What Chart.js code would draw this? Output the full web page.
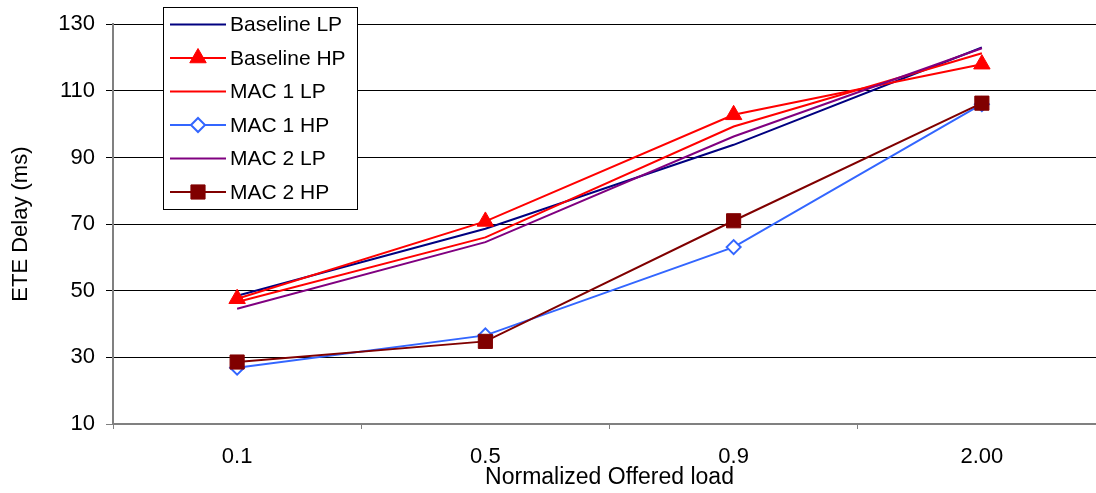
<!DOCTYPE html>
<html>
<head>
<meta charset="utf-8">
<script src="https://cdn.jsdelivr.net/npm/chart.js@4.4.0/dist/chart.umd.min.js"></script>
<style>
  html, body { margin: 0; padding: 0; background: #fff; overflow: hidden; }
  #wrap { width: 1117px; height: 493px; }
</style>
</head>
<body>
<div id="wrap"><canvas id="ete" width="1117" height="493"></canvas></div>
<script>
// offered load categories
const loads = ['0.1', '0.5', '0.9', '2.00'];

// ETE delay (ms) per scheme
const baselineLP = [48.5, 68.6, 93.8, 123.0];
const baselineHP = [47.6, 70.8, 102.8, 118.0];
const mac1LP = [46.6, 66.0, 99.3, 121.3];
const mac1HP = [26.9, 36.6, 63.1, 106.0];
const mac2LP = [44.6, 64.6, 96.3, 122.8];
const mac2HP = [28.6, 34.8, 71.0, 106.3];

const yTicks = [10, 30, 50, 70, 90, 110, 130];

const FONT = '"Liberation Sans", Arial, sans-serif';

// legend drawn as a boxed overlay inside the plot, like the original
const boxLegend = {
    id: 'boxLegend',
    afterDraw(chart) {
        const ctx = chart.ctx;
        const x0 = 163.5, y0 = 7.5, w = 194, h = 202;
        ctx.save();
        ctx.fillStyle = '#fff';
        ctx.fillRect(x0, y0, w, h);
        ctx.strokeStyle = '#000';
        ctx.lineWidth = 1;
        ctx.strokeRect(x0, y0, w, h);
        chart.data.datasets.forEach((ds, i) => {
            const y = 24.5 + i * 33.5;
            ctx.strokeStyle = ds.borderColor;
            ctx.lineWidth = ds.borderWidth;
            ctx.beginPath();
            ctx.moveTo(170, y);
            ctx.lineTo(226, y);
            ctx.stroke();
            if (ds.pointStyle) {
                ctx.fillStyle = ds.pointBackgroundColor;
                ctx.strokeStyle = ds.pointBorderColor;
                ctx.lineWidth = ds.pointBorderWidth;
                Chart.helpers.drawPoint(ctx, {
                    pointStyle: ds.pointStyle,
                    radius: ds.pointRadius,
                    borderWidth: ds.pointBorderWidth,
                    rotation: 0
                }, 198, y);
            }
            ctx.fillStyle = '#000';
            ctx.font = '21px ' + FONT;
            ctx.textBaseline = 'middle';
            ctx.fillText(ds.label, 230, y + 1);
        });
        ctx.restore();
    }
};

// later series sit on top, as in the original
const line = (label, data, color, order, extra) => Object.assign({
    label: label,
    data: data,
    order: order,
    borderColor: color,
    backgroundColor: color,
    borderWidth: 2,
    pointRadius: 0,
    pointHoverRadius: 0,
    pointStyle: false,
    tension: 0,
    fill: false
}, extra || {});

const ctx = document.getElementById('ete');
window.eteChart = new Chart(ctx, {
    type: 'line',
    data: {
        labels: loads,
        datasets: [
            line('Baseline LP', baselineLP, '#000080', 5),
            line('Baseline HP', baselineHP, '#FF0000', 4, {
                pointStyle: 'triangle', pointRadius: 9.5,
                pointBackgroundColor: '#FF0000', pointBorderColor: '#FF0000', pointBorderWidth: 1
            }),
            line('MAC 1 LP', mac1LP, '#FF0000', 3),
            line('MAC 1 HP', mac1HP, '#3366FF', 2, {
                pointStyle: 'rectRot', pointRadius: 7,
                pointBackgroundColor: '#FFFFFF', pointBorderColor: '#3366FF', pointBorderWidth: 2
            }),
            line('MAC 2 LP', mac2LP, '#800080', 1),
            line('MAC 2 HP', mac2HP, '#800000', 0, {
                pointStyle: 'rect', pointRadius: 10,
                pointBackgroundColor: '#800000', pointBorderColor: '#800000', pointBorderWidth: 1
            })
        ]
    },
    options: {
        responsive: false,
        animation: false,
        events: [],
        layout: { padding: { top: 24, right: 5, left: 0, bottom: 0 } },
        plugins: {
            legend: { display: false },
            tooltip: { enabled: false }
        },
        scales: {
            x: {
                type: 'category',
                offset: true,
                grid: {
                    offset: true,
                    drawOnChartArea: false,
                    color: '#808080',
                    tickLength: 5
                },
                border: { color: '#808080', width: 2 },
                ticks: { color: '#000', font: { family: FONT, size: 22 }, padding: 15, maxRotation: 0 },
                title: {
                    display: true,
                    text: 'Normalized Offered load',
                    color: '#000',
                    font: { family: FONT, size: 23 },
                    padding: { top: 0, bottom: 2 }
                },
                afterFit(scale) { scale.height = 69; }
            },
            y: {
                min: 10,
                max: 130,
                afterBuildTicks(scale) { scale.ticks = yTicks.map(v => ({ value: v })); },
                grid: {
                    color: c => (c.tick && c.tick.value === 10) ? '#808080' : '#000',
                    lineWidth: 1,
                    tickLength: 7
                },
                border: { color: '#808080', width: 2 },
                ticks: { color: '#000', font: { family: FONT, size: 22 }, padding: 11 },
                title: {
                    display: true,
                    text: 'ETE Delay (ms)',
                    color: '#000',
                    font: { family: FONT, size: 22 },
                    padding: { top: 8, bottom: 0 }
                },
                afterFit(scale) { scale.width = 113; }
            }
        }
    },
    plugins: [boxLegend]
});
</script>
</body>
</html>
